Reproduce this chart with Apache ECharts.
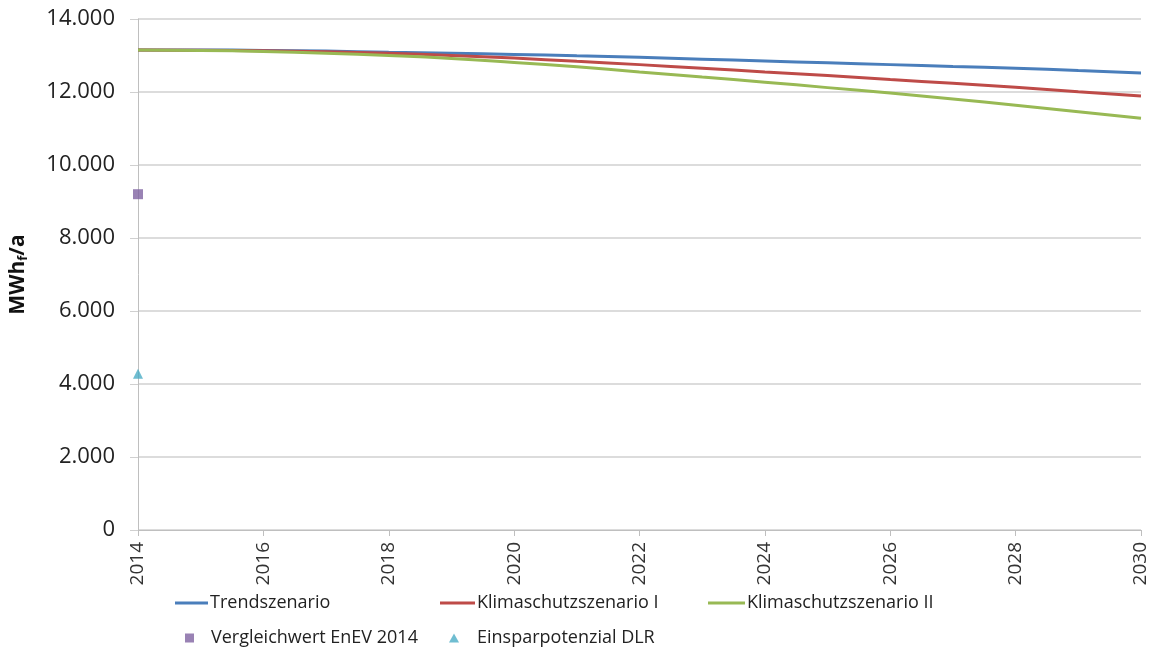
<!DOCTYPE html>
<html><head><meta charset="utf-8">
<script src="https://cdn.jsdelivr.net/npm/echarts@6/dist/echarts.min.js"></script>
<style>html,body{margin:0;padding:0;background:#fff}#c{width:1154px;height:648px}</style>
</head><body><div id="c"></div>
<script>
const years = [2014,2015,2016,2017,2018,2019,2020,2021,2022,2023,2024,2025,2026,2027,2028,2029,2030];
const trend = [13150,13150,13140,13120,13090,13060,13030,12990,12950,12900,12850,12800,12750,12700,12650,12590,12520];
const klima1 = [13150,13145,13130,13100,13060,13000,12930,12840,12750,12650,12550,12450,12340,12240,12130,12010,11890];
const klima2 = [13150,13140,13110,13060,13000,12920,12810,12690,12550,12410,12270,12120,11970,11810,11640,11460,11280];
const enev = [[2014, 9200]];
const dlr = [[2014, 4280]];
const names = ['Trendszenario','Klimaschutzszenario I','Klimaschutzszenario II','Vergleichwert EnEV 2014','Einsparpotenzial DLR'];
const colors = ['#4a7ebb','#be4b48','#98b954','#7f63a1','#4bacc6'];

const font = 'Open Sans, sans-serif';
const zip = a => years.map((y,i)=>[y,a[i]]);
const chart = echarts.init(document.getElementById('c'));
function leg(name, left, top, icon, w, h, pad){
  return {data:[{name, icon}], left, top, itemWidth:w, itemHeight:h, itemGap:0,
    textStyle:{fontFamily:font, fontSize:18, color:'#222', padding:[0,0,0,pad]}, selectedMode:false};
}
chart.setOption({
  animation:false,
  grid:{left:136, right:13, top:19, bottom:118, containLabel:false},
  xAxis:{type:'value', min:2014, max:2030, interval:2,
    axisLine:{show:true, onZero:false, lineStyle:{color:'#bfbfbf', width:1}},
    axisTick:{show:true, length:6, lineStyle:{color:'#bfbfbf'}},
    splitLine:{show:false},
    axisLabel:{rotate:90, fontFamily:font, fontSize:19, color:'#333', margin:12,
      formatter:v=>String(v)}},
  yAxis:{type:'value', min:0, max:14000, interval:2000,
    name:'{a|MWh}{s|f}{a|/a}', nameLocation:'middle', nameGap:108, nameRotate:90,
    nameTextStyle:{rich:{a:{fontFamily:font, fontSize:21, fontWeight:'bold', color:'#111'},
                         s:{fontFamily:font, fontSize:13, fontWeight:'bold', color:'#111', padding:[10,0,0,0]}}},
    axisLine:{show:true, lineStyle:{color:'#bfbfbf'}},
    axisTick:{show:true, length:8, lineStyle:{color:'#d0d0d0'}},
    splitLine:{show:true, lineStyle:{color:'#d0d0d0', width:1.5}},
    axisLabel:{fontFamily:font, fontSize:22, color:'#222', margin:23,
      formatter:v=>v===0?'0':(v/1000).toFixed(3)}},
  legend:[
    leg(names[0],170,589,'rect',33,3,-3),
    leg(names[1],435,589,'rect',35,3,-3),
    leg(names[2],703,589,'rect',37,3,-3),
    leg(names[3],180,624,'rect',9,9,12),
    leg(names[4],444,624,'triangle',10,9,13)
  ],
  series:[
    {name:names[0], type:'line', data:zip(trend), showSymbol:false, smooth:true, lineStyle:{width:3, color:colors[0]}, itemStyle:{color:colors[0]}},
    {name:names[1], type:'line', data:zip(klima1), showSymbol:false, smooth:true, lineStyle:{width:3, color:colors[1]}, itemStyle:{color:colors[1]}},
    {name:names[2], type:'line', data:zip(klima2), showSymbol:false, smooth:true, lineStyle:{width:3, color:colors[2]}, itemStyle:{color:colors[2]}},
    {name:names[3], type:'scatter', data:enev, symbol:'rect', symbolSize:10, itemStyle:{color:colors[3]}},
    {name:names[4], type:'scatter', data:dlr, symbol:'triangle', symbolSize:10, itemStyle:{color:colors[4]}}
  ]
});
</script></body></html>
